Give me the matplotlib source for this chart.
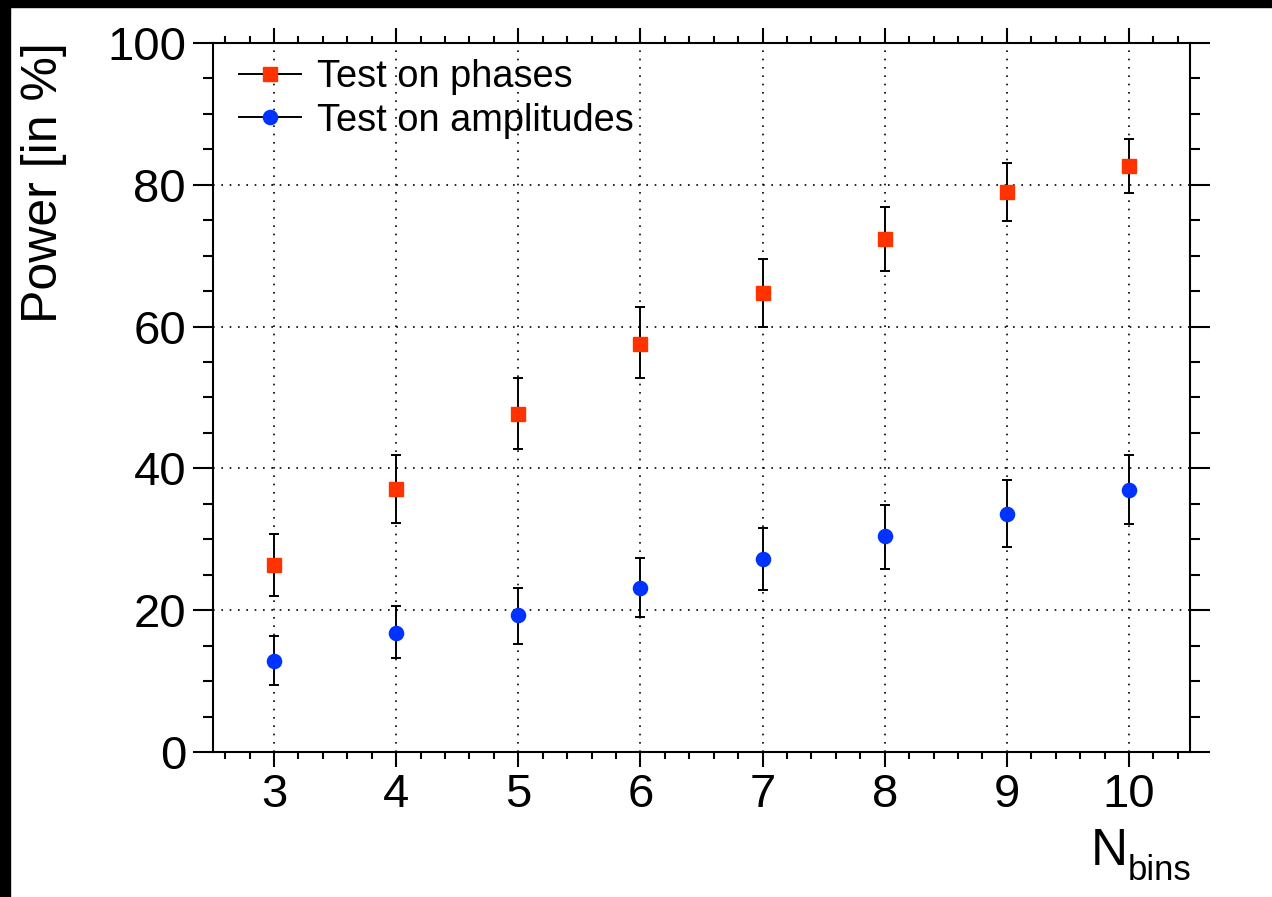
import matplotlib
matplotlib.use("Agg")
import matplotlib.pyplot as plt
from matplotlib.lines import Line2D
from matplotlib.patches import Rectangle
from matplotlib.ticker import MultipleLocator

# data
n_bins = [3, 4, 5, 6, 7, 8, 9, 10]
phases = [26.4, 37.1, 47.7, 57.6, 64.8, 72.4, 79.0, 82.7]
phases_lo = [4.4, 4.8, 5.0, 4.9, 4.8, 4.6, 4.1, 3.8]
phases_hi = [4.4, 4.8, 5.1, 5.1, 4.7, 4.4, 4.1, 3.7]
amplitudes = [12.8, 16.8, 19.3, 23.2, 27.2, 30.4, 33.5, 37.0]
amplitudes_lo = [3.3, 3.6, 4.0, 4.2, 4.4, 4.6, 4.6, 4.8]
amplitudes_hi = [3.5, 3.8, 3.9, 4.2, 4.4, 4.4, 4.8, 4.9]
labels = ["Test on phases", "Test on amplitudes"]

RED = "#ff3300"
BLUE = "#0033ff"

plt.rcParams["font.family"] = ["Liberation Sans", "DejaVu Sans"]

fig, ax = plt.subplots(figsize=(12.72, 8.97), dpi=100)
fig.subplots_adjust(left=213 / 1272, right=1190 / 1272,
                    bottom=1 - 752 / 897, top=1 - 43 / 897)

# black strips on the screenshot edges
fig.add_artist(Rectangle((0, 0), 10 / 1272, 1, transform=fig.transFigure,
                         color="black", zorder=10))
fig.add_artist(Rectangle((0, 1 - 7 / 897), 1, 7 / 897, transform=fig.transFigure,
                         color="black", zorder=10))

ax.errorbar(n_bins, phases, yerr=[phases_lo, phases_hi], fmt="none",
            ecolor="black", elinewidth=1.4, capsize=3.5, capthick=1.4, zorder=2)
ax.errorbar(n_bins, amplitudes, yerr=[amplitudes_lo, amplitudes_hi], fmt="none",
            ecolor="black", elinewidth=1.4, capsize=3.5, capthick=1.4, zorder=2)
ax.plot(n_bins, phases, "s", color=RED, ms=9.8, zorder=3)
ax.plot(n_bins, amplitudes, "o", color=BLUE, ms=10.2, zorder=3)

ax.set_xlim(2.5, 10.5)
ax.set_ylim(0, 100)
ax.xaxis.set_major_locator(MultipleLocator(1))
ax.xaxis.set_minor_locator(MultipleLocator(0.2))
ax.yaxis.set_major_locator(MultipleLocator(20))
ax.yaxis.set_minor_locator(MultipleLocator(5))

ax.grid(True, which="major", color="black", linestyle=(0, (1, 4)), linewidth=1.2)
ax.set_axisbelow(True)

for s in ax.spines.values():
    s.set_linewidth(1.5)
ax.tick_params(axis="both", which="both", direction="out", width=1.5,
               top=True, right=True, labelsize=34)
ax.tick_params(axis="x", which="major", length=10.8, pad=4)
ax.tick_params(axis="x", which="minor", length=5)
ax.tick_params(axis="y", which="major", length=14.4, pad=5)
ax.tick_params(axis="y", which="minor", length=7.2)

handles = [
    Line2D([], [], color="black", lw=1.4, marker="s", ms=9.8, mfc=RED, mec=RED),
    Line2D([], [], color="black", lw=1.4, marker="o", ms=10.2, mfc=BLUE, mec=BLUE),
]
ax.legend(handles, labels, loc="upper left", frameon=False, fontsize=27.4,
          bbox_to_anchor=(26 / 977, 1 - 16 / 709), borderpad=0, borderaxespad=0,
          handlelength=1.62, handletextpad=0.42, labelspacing=0.2)

fig.text(44 / 1272, 1 - 42 / 897, "Power [in %]", rotation=90, fontsize=36,
         ha="center", va="top")
# axis title N_bins, drawn as two pieces like ROOT's #splitline-free subscript
fig.text(1128 / 1272, 1 - 865 / 897, "N", fontsize=37,
         ha="right", va="baseline")
fig.text(1128 / 1272, 1 - 880 / 897, "bins", fontsize=25,
         ha="left", va="baseline")

fig.savefig("out.png", dpi=100)
